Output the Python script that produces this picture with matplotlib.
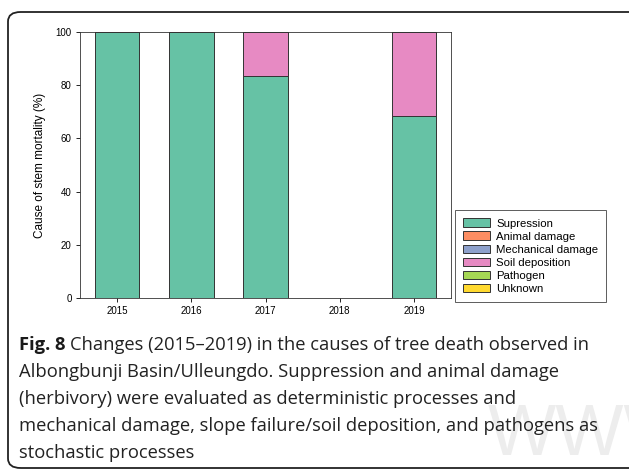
import matplotlib.pyplot as plt
import numpy as np
from matplotlib.patches import FancyBboxPatch

# data
years = ["2015", "2016", "2017", "2018", "2019"]
causes = ["Supression", "Animal damage", "Mechanical damage",
          "Soil deposition", "Pathogen", "Unknown"]
supression = [100, 100, 83.3, 0, 68.4]
animal = [0, 0, 0, 0, 0]
mechanical = [0, 0, 0, 0, 0]
soil = [0, 0, 16.7, 0, 31.6]
pathogen = [0, 0, 0, 0, 0]
unknown = [0, 0, 0, 0, 0]
colors = ["#66c2a5", "#fc8d62", "#8da0cb", "#e78ac3", "#a6d854", "#ffd92f"]

series = [supression, animal, mechanical, soil, pathogen, unknown]

fig = plt.figure(figsize=(6.29, 4.75), dpi=100)

# rounded frame round the figure panel
frame = FancyBboxPatch((8 / 629, 7 / 475), 640 / 629, 456 / 475,
                       boxstyle="round,pad=0,rounding_size=0.02",
                       transform=fig.transFigure, facecolor="none",
                       edgecolor="#222222", linewidth=1.3, clip_on=False)
fig.patches.append(frame)

# faint watermark behind the caption
fig.text(488 / 629, 1 - 470 / 475, "WWW.K", fontsize=52, color="#ededed",
         family="Liberation Sans", ha="left", va="bottom", zorder=-5)

ax = fig.add_axes([80 / 629, 1 - 298 / 475, 371 / 629, 266 / 475])
x = np.arange(len(years))
bottom = np.zeros(len(years))
handles = []
for name, vals, c in zip(causes, series, colors):
    vals = np.array(vals, dtype=float)
    b = ax.bar(x, vals, 0.6, bottom=bottom, color=c, edgecolor="#333333",
               linewidth=0.7, label=name)
    handles.append(b)
    bottom += vals

ax.set_xlim(-0.5, 4.5)
ax.set_ylim(0, 100)
ax.set_xticks(x)
ax.set_xticklabels(years)
ax.set_yticks([0, 20, 40, 60, 80, 100])
ax.tick_params(labelsize=7, length=3, width=0.6, direction="out", pad=3)
for lab in ax.get_xticklabels() + ax.get_yticklabels():
    lab.set_family("Liberation Sans")
for s in ax.spines.values():
    s.set_linewidth(0.6)
    s.set_color("#333333")
ax.set_ylabel("Cause of stem mortality (%)", fontsize=8.5,
              family="Liberation Sans", labelpad=7)

leg = ax.legend(handles=handles, labels=causes, loc="lower left",
                bbox_to_anchor=(455 / 629, 1 - 302 / 475),
                bbox_transform=fig.transFigure,
                prop={"family": "Liberation Sans", "size": 8.2},
                frameon=True, fancybox=False, edgecolor="#333333",
                handlelength=2.4, handleheight=0.75, handletextpad=0.5,
                labelspacing=0.26, borderpad=0.7, borderaxespad=0)
leg.get_frame().set_linewidth(0.7)

cap_font = "Open Sans"
cap_size = 13.2
lines = [
    "Albongbunji Basin/Ulleungdo. Suppression and animal damage",
    "(herbivory) were evaluated as deterministic processes and",
    "mechanical damage, slope failure/soil deposition, and pathogens as",
    "stochastic processes",
]
y0 = 1 - 345 / 475
step = 27 / 475
t = fig.text(19 / 629, y0, "Fig. 8", fontsize=cap_size, fontweight="bold",
             family=cap_font, va="center", color="#1a1a1a")
fig.canvas.draw()
bb = t.get_window_extent()
fig.text(bb.x1 / 629 + 5 / 629, y0,
         "Changes (2015\u20132019) in the causes of tree death observed in",
         fontsize=cap_size, family=cap_font, va="center", color="#222222")
for i, s in enumerate(lines):
    fig.text(19 / 629, y0 - step * (i + 1), s, fontsize=cap_size,
             family=cap_font, va="center", color="#222222")

fig.savefig("out.png", dpi=100)
